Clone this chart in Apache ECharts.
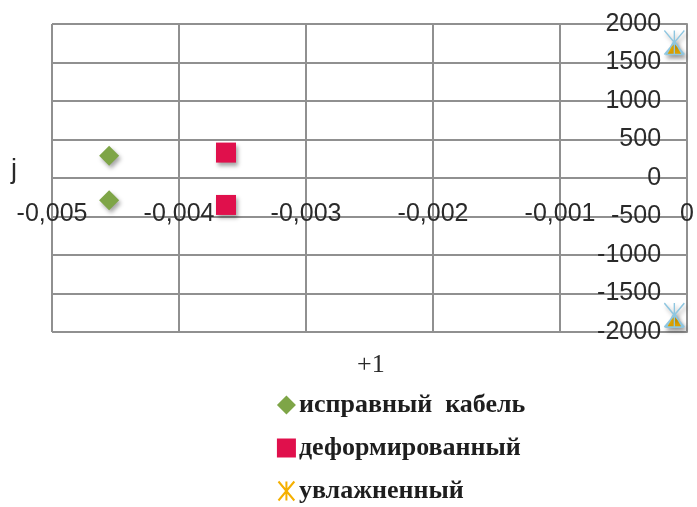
<!DOCTYPE html>
<html>
<head>
<meta charset="utf-8">
<script src="https://cdn.jsdelivr.net/npm/echarts@6/dist/echarts.min.js"></script>
<style>
  html, body { margin: 0; padding: 0; background: #ffffff; }
  #chart { width: 697px; height: 507px; }
</style>
</head>
<body>
<div id="chart"></div>
<script>
// Series names shown in the legend
const seriesNames = ['исправный  кабель', 'деформированный', 'увлажненный'];

// Points as [real part, imaginary part]
const healthyCable = [[-0.00455, 290], [-0.00455, -290]];
const deformedCable = [[-0.00363, 330], [-0.00363, -350]];
const moistCable = [[-0.0001, 1760], [-0.0001, -1780]];

// Axis ranges, steps and titles
const xRange = [-0.005, 0];
const xStep = 0.001;
const yRange = [-2000, 2000];
const yStep = 500;
const xAxisTitle = '+1';
const yAxisTitle = 'j';

const gridColor = '#909090';
const labelColor = '#2a2a2a';
const tickFont = 'Liberation Sans';
const legendFont = 'Liberation Serif';

// plot box in pixels
const plotTop = 24;
const plotBottom = 332;
const plotHeight = plotBottom - plotTop;

const markerShadow = {
  opacity: 1,
  shadowColor: 'rgba(0,0,0,0.35)',
  shadowBlur: 4,
  shadowOffsetX: 2,
  shadowOffsetY: 3
};

const asteriskPath = 'path://M0,0L20,24M20,0L0,24M10,0L10,24M2,24L10,10L18,24Z';
const asteriskIcon = 'path://M0,0L20,24M20,0L0,24M10,0L10,24';

const chart = echarts.init(document.getElementById('chart'), null, { renderer: 'canvas' });

// the horizontal axis sits on the zero line of the vertical axis
const zeroOffset = -plotHeight * (0 - yRange[0]) / (yRange[1] - yRange[0]);

chart.setOption({
  animation: false,
  backgroundColor: '#ffffff',
  grid: { left: 52, right: 4, top: plotTop, bottom: 507 - plotBottom, containLabel: false },
  xAxis: {
    type: 'value',
    position: 'bottom',
    offset: zeroOffset,
    min: xRange[0],
    max: xRange[1],
    interval: xStep,
    axisLine: { show: true, onZero: false, lineStyle: { color: gridColor, width: 2 } },
    axisTick: { show: false },
    splitLine: { show: true, lineStyle: { color: gridColor, width: 2 } },
    axisLabel: {
      show: true,
      margin: 24,
      color: labelColor,
      fontFamily: tickFont,
      fontSize: 25,
      showMinLabel: true,
      showMaxLabel: true,
      formatter: function (v) {
        if (Math.abs(v) < 1e-12) return '0';
        return v.toFixed(3).replace('.', ',');
      }
    }
  },
  yAxis: {
    type: 'value',
    position: 'right',
    min: yRange[0],
    max: yRange[1],
    interval: yStep,
    axisLine: { show: true, onZero: false, lineStyle: { color: gridColor, width: 2 } },
    axisTick: { show: false },
    splitLine: { show: true, lineStyle: { color: gridColor, width: 2 } },
    axisLabel: {
      show: true,
      inside: true,
      margin: 26,
      color: labelColor,
      fontFamily: tickFont,
      fontSize: 25,
      formatter: function (v) { return String(v); }
    }
  },
  legend: {
    orient: 'vertical',
    left: 271,
    top: 387,
    height: 130,
    itemWidth: 19,
    itemHeight: 19,
    itemGap: 17,
    textStyle: { fontFamily: legendFont, fontSize: 26, fontWeight: 'bold', color: '#1e1e1e', padding: [0, 0, 0, -2] },
    data: [
      { name: seriesNames[0], icon: 'diamond' },
      { name: seriesNames[1], icon: 'rect' },
      { name: seriesNames[2], icon: asteriskIcon, itemStyle: { color: 'none', borderColor: '#f5b000', borderWidth: 2 } }
    ]
  },
  graphic: [
    {
      type: 'text',
      left: 11,
      top: 157,
      style: { text: yAxisTitle, font: '27px "Liberation Sans"', fill: '#2a2a2a' }
    },
    {
      type: 'text',
      left: 357,
      top: 352,
      style: { text: xAxisTitle, font: '26px "Liberation Serif"', fill: '#2a2a2a' }
    }
  ],
  series: [
    {
      name: seriesNames[0],
      type: 'scatter',
      symbol: 'diamond',
      symbolSize: 20,
      data: healthyCable,
      itemStyle: Object.assign({ color: '#7ea547' }, markerShadow)
    },
    {
      name: seriesNames[1],
      type: 'scatter',
      symbol: 'rect',
      symbolSize: 20,
      data: deformedCable,
      itemStyle: Object.assign({ color: '#e0104c' }, markerShadow)
    },
    {
      name: seriesNames[2],
      type: 'scatter',
      symbol: asteriskPath,
      symbolSize: [20, 24],
      data: moistCable,
      itemStyle: Object.assign({ color: '#f7b500', borderColor: '#8ec6e0', borderWidth: 1.5 }, markerShadow)
    }
  ]
});
</script>
</body>
</html>
